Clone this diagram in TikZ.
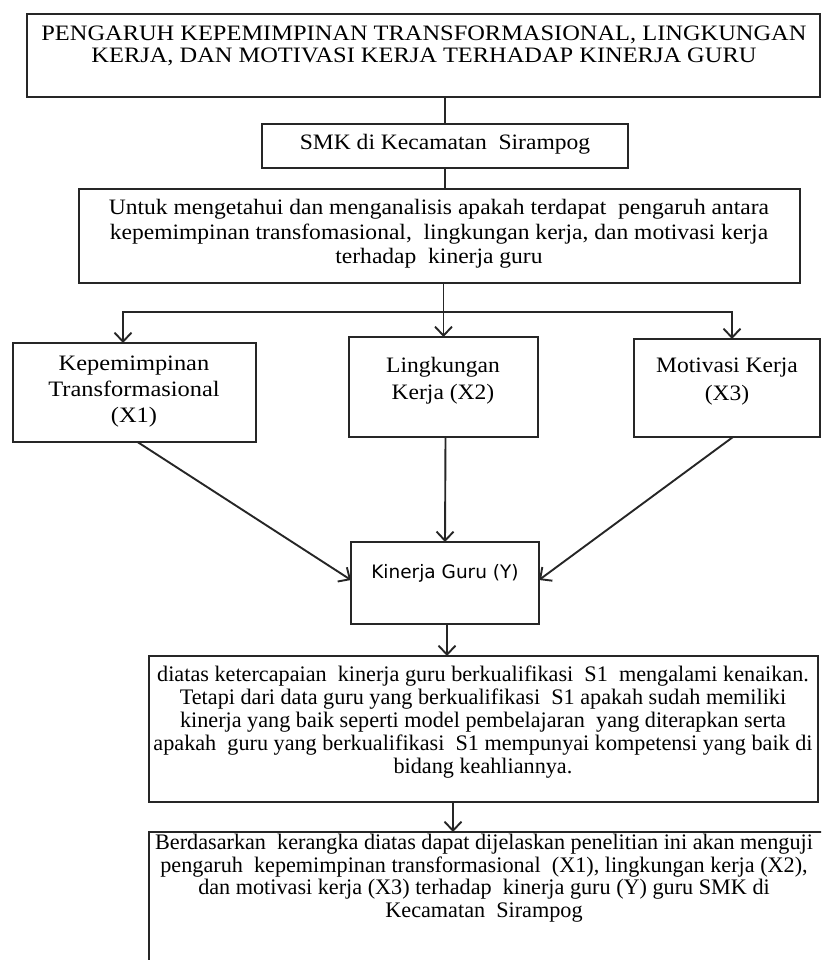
\documentclass[tikz,border=0pt]{standalone}
\usepackage{fontspec}
\setmainfont{Liberation Serif}
\newfontfamily\wideA[FakeStretch=1.11]{Liberation Serif}
\newfontfamily\wideB[FakeStretch=1.07]{Liberation Serif}
\newfontfamily\kgsans{DejaVu Sans}
\usetikzlibrary{arrows.meta}
\tikzset{
  box/.style={draw=black!85, line width=1.9pt, rectangle, inner sep=0pt, outer sep=0pt},
  txt/.style={align=center, inner sep=0pt, font=\fontsize{22}{24.5}\selectfont},
  ln/.style={draw=black!85, line width=1.9pt},
  arr/.style={ln, -{Straight Barb[length=9pt,width=17pt]}}
}
\begin{document}
\begin{tikzpicture}[x=1pt,y=-1pt]
\clip (0,0) rectangle (821,960);
% boxes
\node[box, minimum width=793pt, minimum height=83pt] (title) at (423.5,55.5) {};
\node[box, minimum width=366pt, minimum height=44pt] (smk) at (445,146) {};
\node[box, minimum width=721pt, minimum height=94pt] (untuk) at (439.5,236) {};
\node[box, minimum width=243pt, minimum height=99pt] (kep) at (134.5,392.5) {};
\node[box, minimum width=189pt, minimum height=100pt] (ling) at (443.5,387) {};
\node[box, minimum width=186pt, minimum height=98pt] (mot) at (727,388) {};
\node[box, minimum width=188pt, minimum height=82pt] (kin) at (445,583) {};
\node[box, minimum width=669pt, minimum height=146pt] (sone) at (483.5,729) {};
\node[box, minimum width=680pt, minimum height=150pt] (last) at (489,907) {};
% texts
\node[txt, font=\wideA\fontsize{22}{22.5}\selectfont] (ttitle) at (424,46) {PENGARUH KEPEMIMPINAN TRANSFORMASIONAL, LINGKUNGAN\\KERJA, DAN MOTIVASI KERJA TERHADAP KINERJA GURU};
\node[txt, font=\wideB\fontsize{22}{24.5}\selectfont] (tsmk) at (445,144) {SMK di Kecamatan\ \ Sirampog};
\node[txt, font=\wideB\fontsize{22}{24.5}\selectfont] (tuntuk) at (439,234) {Untuk mengetahui dan menganalisis apakah terdapat\ \ pengaruh antara\\kepemimpinan transfomasional,\ \ lingkungan kerja, dan motivasi kerja\\terhadap\ \ kinerja guru};
\node[txt, font=\wideA\fontsize{22}{26}\selectfont] (tkep) at (134,392) {Kepemimpinan\\Transformasional\\(X1)};
\node[txt, font=\wideB\fontsize{22}{27}\selectfont] (tling) at (443,381) {Lingkungan\\Kerja (X2)};
\node[txt, font=\wideB\fontsize{22}{28}\selectfont] (tmot) at (727,382) {Motivasi Kerja\\(X3)};
\node[txt, font=\kgsans\fontsize{18.5}{20}\selectfont] (tkin) at (445,573) {Kinerja Guru (Y)};
\node[txt, font=\fontsize{22.2}{22.8}\selectfont] (tsone) at (483,722) {diatas ketercapaian\ \ kinerja guru berkualifikasi\ \ S1\ \ mengalami kenaikan.\\Tetapi dari data guru yang berkualifikasi\ \ S1 apakah sudah memiliki\\kinerja yang baik seperti model pembelajaran\ \ yang diterapkan serta\\apakah\ \ guru yang berkualifikasi\ \ S1 mempunyai kompetensi yang baik di\\bidang keahliannya.};
\node[txt, font=\fontsize{22.2}{22.5}\selectfont] (tlast) at (484,878) {Berdasarkan\ \ kerangka diatas dapat dijelaskan penelitian ini akan menguji\\pengaruh\ \ kepemimpinan transformasional\ \ (X1), lingkungan kerja (X2),\\dan motivasi kerja (X3) terhadap\ \ kinerja guru (Y) guru SMK di\\Kecamatan\ \ Sirampog};
% connectors
\draw[ln] (title.south -| smk.north) -- (smk.north);
\draw[ln] (smk.south) -- (smk.south |- untuk.north);
\draw[arr] (untuk.south -| ling.north) -- (ling.north);
\coordinate (hl) at (443.5,312);
\draw[arr] (hl) -| ([xshift=-11.5pt]kep.north);
\draw[arr] (hl) -| ([xshift=5pt]mot.north);
\draw[arr] ([xshift=3pt]kep.south) -- ([yshift=3pt]kin.west);
\draw[arr] ([xshift=2pt]ling.south) -- ([xshift=0pt]kin.north);
\draw[arr] ([xshift=6pt]mot.south) -- ([yshift=3pt]kin.east);
\draw[arr] ([xshift=2pt]kin.south) -- ([xshift=2pt]kin.south |- sone.north);
\draw[arr] (sone.south -| 453,0) -- (last.north -| 453,0);
\end{tikzpicture}
\end{document}
